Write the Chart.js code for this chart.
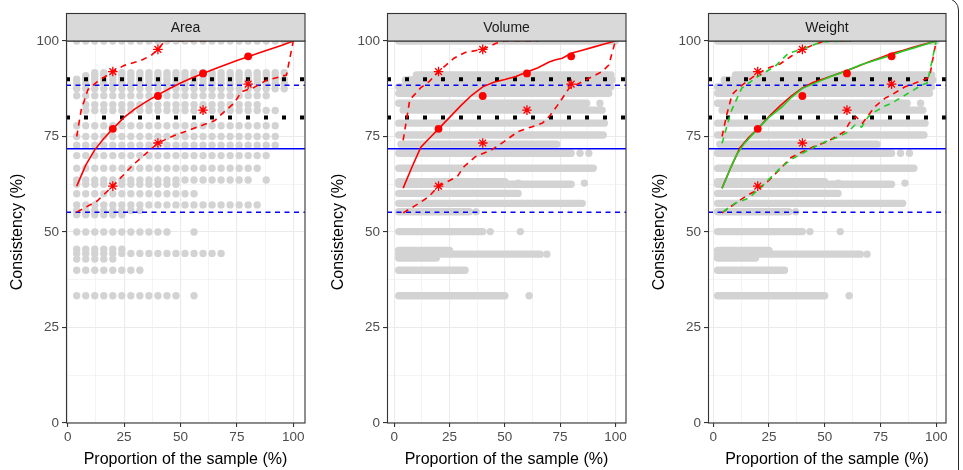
<!DOCTYPE html>
<html>
<head>
<meta charset="utf-8">
<script src="https://cdn.jsdelivr.net/npm/chart.js@4.4.1/dist/chart.umd.min.js"></script>
<style>
  html, body { margin: 0; padding: 0; background: #fff; }
  #wrap { position: relative; width: 963px; height: 470px; overflow: hidden; background: #fff; }
  .panel { position: absolute; top: 0; }
  #frame { position: absolute; left: -30px; top: -2px; width: 989px; height: 500px; border: 1.5px solid #2a2a2a; border-radius: 12px; box-sizing: border-box; pointer-events: none; }
</style>
</head>
<body>
<div id="wrap">
  <canvas class="panel" id="c0" width="321" height="470" style="left:0px"></canvas>
  <canvas class="panel" id="c1" width="321" height="470" style="left:321px"></canvas>
  <canvas class="panel" id="c2" width="321" height="470" style="left:642px"></canvas>
  <div id="frame"></div>
</div>
<script>
// facets and axes
const facets = ['Area', 'Volume', 'Weight'];
const xLimits = [[-0.75, 105.2], [-3.3, 104.8], [-2.3, 104.4]];
const majorTicks = [0, 25, 50, 75, 100];
const minorTicks = [12.5, 37.5, 62.5, 87.5];

// reference lines
const meanLine = 71.8;
const sdLines = [88.4, 55.2];
const cutLines = [90, 80];

// observed points (same in every panel)
const markX = [20, 40, 60, 80];
const markY = [77, 85.6, 91.5, 96];
const starX = [20, 40, 20, 40, 60, 80];
const starY = [92, 97.8, 62, 73.3, 81.9, 88.7];

// Area curves
const areaFitX = [4, 8, 12, 16, 20, 25, 30, 35, 40, 45, 50, 55, 60, 65, 70, 75, 80, 85, 90, 95, 100];
const areaFitY = [62, 67.5, 71.5, 74.5, 77, 80, 82.3, 84.2, 85.9, 87.5, 89, 90.3, 91.5, 92.7, 93.8, 94.9, 95.9, 96.9, 97.9, 98.9, 100];
const areaHighX = [4, 6, 9, 13, 20, 25, 32, 37, 40, 43, 62];
const areaHighY = [75, 82, 87.3, 89.3, 92, 93.6, 94.8, 96.2, 97.8, 100, 100];
const areaLowX = [4, 13, 20, 29, 40, 47, 59, 65, 74, 77, 82.5, 88, 97, 100];
const areaLowY = [55.2, 58.1, 62, 67.6, 73.3, 75.2, 77.8, 79.1, 83.9, 86.7, 87.8, 89.7, 91.1, 100];

// Volume curves
const volFitX = [4, 8, 12, 16, 20, 25, 30, 35, 40, 45, 50, 55, 60, 65, 70, 73, 76, 80, 85, 90, 95, 100];
const volFitY = [61.5, 67, 72.2, 74.6, 77, 80, 83, 85.8, 88, 89.2, 89.9, 90.7, 91.9, 93, 94.5, 95.1, 95.5, 96.8, 97.6, 98.4, 99.2, 100];
const volHighX = [4, 7, 12, 16, 20, 27, 32, 40, 46, 50, 65];
const volHighY = [74, 84.6, 87.8, 89.5, 92, 95.5, 97, 97.8, 99.4, 100, 100];
const volLowX = [4, 10, 15.5, 20, 24, 28.5, 31.5, 36.7, 44, 49.5, 56, 62, 67, 70, 74.5, 79, 85, 94, 97, 100];
const volLowY = [55, 57.1, 59.2, 62, 63.2, 64.5, 67.1, 69.7, 71.5, 73.6, 76.3, 77.5, 78.5, 80.2, 83.7, 87.6, 89.3, 92, 93.7, 100];

// Weight curves (red and green)
const wtRedFitX = [4, 8, 12, 16, 20, 25, 30, 35, 40, 45, 50, 55, 60, 65, 70, 75, 80, 85, 90, 95, 100];
const wtRedFitY = [61.5, 67, 72, 74.8, 77, 80.2, 83, 85.6, 87.7, 89.2, 90.2, 91.2, 92.3, 93.4, 94.6, 95.6, 96.7, 97.5, 98.4, 99.2, 100];
const wtRedHighX = [4, 6, 8.5, 12, 17, 20, 25, 30, 35, 40, 45, 50, 62];
const wtRedHighY = [75, 80.5, 86, 88, 90.2, 91.5, 93, 94, 96, 97.8, 99, 100, 100];
const wtRedLowX = [4, 10, 15, 20, 25, 30, 35, 40, 45, 51, 59, 61, 64, 67, 72.5, 77, 80, 86, 92, 97, 100];
const wtRedLowY = [55, 57.5, 59.5, 61, 63.5, 66.5, 69.5, 71, 72.3, 73.6, 76.3, 78.5, 80.2, 78.5, 82.8, 85, 85.9, 88, 89.3, 90.5, 100];
const wtGreenFitX = [4, 8, 10.5, 14, 20, 25, 31, 35, 40, 47, 53, 59, 66, 73, 80, 85, 90, 95, 100];
const wtGreenFitY = [61.4, 67, 70.2, 73.2, 77, 80, 82.8, 85.2, 87.6, 89.3, 90.8, 92, 93.7, 95, 96.3, 97.3, 98.2, 99.1, 100];
const wtGreenHighX = [4, 8, 12.8, 20, 27.7, 33.7, 41, 48.7, 62];
const wtGreenHighY = [73.2, 81.5, 87.6, 90.7, 93.3, 96.8, 98.1, 99.8, 100];
const wtGreenLowX = [4.5, 9.7, 15.7, 20.2, 26.2, 30.7, 35.9, 40, 45.7, 50.2, 55, 60, 63.6, 66.6, 69.6, 72.6, 77, 80, 86, 93.6, 96, 100];
const wtGreenLowY = [55.3, 57.5, 58.8, 61, 64.5, 67.1, 69.3, 70.6, 72.3, 73.6, 74.6, 76, 78, 77.5, 80.2, 81.5, 83, 83.7, 85.8, 88.5, 89, 100];

// grey sample points, Area: [consistency, first x, last x], one dot every 4 %
const areaRows = [
  [100, 4, 96], [91.7, 12, 96], [90.9, 8, 92], [90, 4, 96], [88.9, 4, 96], [87.5, 4, 96],
  [85.7, 4, 88], [83.3, 8, 84], [81.8, 8, 92], [77.8, 4, 92], [75, 4, 92], [72.7, 4, 92],
  [70, 4, 88], [66.7, 4, 84], [63.6, 4, 80], [63.6, 88, 88], [62.5, 4, 48], [60, 4, 56],
  [57.1, 4, 84], [55.6, 4, 32], [54.5, 4, 24], [50, 4, 44], [50, 56, 56], [45.5, 4, 24],
  [44.4, 4, 68], [42.9, 4, 20], [40, 4, 32], [33.3, 4, 48], [33.3, 56, 56]
];
// grey sample points, Volume and Weight: dense runs [consistency, from x, to x]
const sampleBands = [
  [100, 2, 100], [91.1, 10, 98], [89.8, 5, 98.5], [88, 2, 98], [86.3, 2, 97], [83.7, 2, 87],
  [81.9, 4, 94], [78.5, 2, 95], [75.4, 2, 94.5], [73, 3, 73.5], [70.6, 2, 80], [66.7, 2, 90],
  [63.2, 2, 50], [62.5, 2, 80], [60.1, 2, 56], [57.5, 2, 85], [55.3, 2, 34], [50.1, 2, 40],
  [45.2, 2, 25], [44.2, 2, 66], [43.2, 2, 19], [40, 2, 32], [33.3, 2, 50]
];
const sampleDots = [
  [84, 70.6], [88, 70.6], [56, 62.8], [86, 62.8], [43.4, 50.1], [57, 50.1],
  [69, 44.2], [61, 33.3], [37, 55.3], [93, 83.7]
];

const FONT = '"Liberation Sans", Arial, sans-serif';
const RED = '#ff0000', BLUE = '#0000ff', GREEN = '#22cc22', GREY = '#d3d3d3';

function pts(xs, ys) { return xs.map((x, i) => ({ x, y: ys[i] })); }
function hline(y, xr) { return [{ x: xr[0], y }, { x: xr[1], y }]; }
function stepDots(rows) {
  const out = [];
  rows.forEach(([y, a, b]) => { for (let x = a; x <= b; x += 4) out.push({ x, y }); });
  return out;
}
function bandPoints(rows) {
  const out = [];
  rows.forEach(([y, a, b]) => { out.push({ x: a, y }, { x: b, y }, { x: b, y: null }); });
  return out;
}
function line(data, color, width, dash, order) {
  return { data, showLine: true, borderColor: color, borderWidth: width, borderDash: dash || [],
    pointRadius: 0, tension: 0, clip: 0, order, spanGaps: false };
}

const panelDecor = {
  id: 'panelDecor',
  afterDatasetsDraw(chart, args, opts) {
    const { ctx, chartArea: a } = chart;
    ctx.save();
    ctx.strokeStyle = '#333333';
    ctx.lineWidth = 1.1;
    ctx.strokeRect(a.left + 0.5, a.top, a.right - a.left - 0.5, a.bottom - a.top);
    ctx.fillStyle = '#d9d9d9';
    ctx.fillRect(a.left + 0.5, 13.5, a.right - a.left - 0.5, a.top - 13.5);
    ctx.strokeRect(a.left + 0.5, 13.5, a.right - a.left - 0.5, a.top - 13.5);
    ctx.fillStyle = '#1a1a1a';
    ctx.font = '14px ' + FONT;
    ctx.textAlign = 'center';
    ctx.textBaseline = 'middle';
    ctx.fillText(opts.label, (a.left + a.right) / 2, (13.5 + a.top) / 2 + 1);
    ctx.restore();
  }
};

const gridVals = majorTicks.concat(minorTicks).sort((a, b) => a - b);
const isMajor = c => c.tick && majorTicks.includes(c.tick.value);

function axis(horizontal, xr) {
  const s = {
    type: 'linear',
    min: horizontal ? xr[0] : 0,
    max: horizontal ? xr[1] : 100,
    afterBuildTicks: sc => { sc.ticks = gridVals.map(v => ({ value: v })); },
    ticks: {
      autoSkip: false, maxRotation: 0, padding: horizontal ? 2 : 3,
      color: '#4d4d4d', font: { family: FONT, size: 13.5 },
      callback: v => majorTicks.includes(v) ? String(v) : ''
    },
    grid: {
      color: '#ebebeb',
      lineWidth: c => isMajor(c) ? 1.1 : 0.55,
      tickColor: c => isMajor(c) ? '#333333' : 'rgba(0,0,0,0)',
      tickLength: 4, tickWidth: 1.1
    },
    border: { display: false },
    title: {
      display: true, color: '#000', font: { family: FONT, size: 16 },
      text: horizontal ? 'Proportion of the sample (%)' : 'Consistency (%)',
      padding: horizontal ? { top: 0, bottom: 1 } : { top: 8, bottom: 0 }
    }
  };
  if (horizontal) s.afterFit = sc => { sc.height = 47; };
  else s.afterFit = sc => { sc.width = 66; };
  return s;
}

function makePanel(i) {
  const xr = xLimits[i];
  const ds = [];
  if (i === 0) {
    ds.push({ data: stepDots(areaRows), pointRadius: 3.7, backgroundColor: GREY, borderWidth: 0, clip: 0, order: 9 });
  } else {
    ds.push({ data: bandPoints(sampleBands), showLine: true, borderColor: GREY, borderWidth: 7.4,
      borderCapStyle: 'round', borderJoinStyle: 'round', pointRadius: 0, spanGaps: false, clip: 0, order: 9 });
    ds.push({ data: sampleDots.map(([x, y]) => ({ x, y })), pointRadius: 3.7, backgroundColor: GREY, borderWidth: 0, clip: 0, order: 9 });
  }
  cutLines.forEach(v => ds.push(line(hline(v, xr), '#000000', 4, [4, 14], 7)));
  ds.push(line(hline(meanLine, xr), BLUE, 1.5, [], 7));
  sdLines.forEach(v => ds.push(line(hline(v, xr), BLUE, 1.5, [5, 4.5], 7)));

  if (i === 0) {
    ds.push(line(pts(areaFitX, areaFitY), RED, 1.6, [], 5));
    ds.push(line(pts(areaHighX, areaHighY), RED, 1.6, [6, 5], 5));
    ds.push(line(pts(areaLowX, areaLowY), RED, 1.6, [6, 5], 5));
  } else if (i === 1) {
    ds.push(line(pts(volFitX, volFitY), RED, 1.6, [], 5));
    ds.push(line(pts(volHighX, volHighY), RED, 1.6, [6, 5], 5));
    ds.push(line(pts(volLowX, volLowY), RED, 1.6, [6, 5], 5));
  } else {
    ds.push(line(pts(wtRedFitX, wtRedFitY), RED, 1.6, [], 5));
    ds.push(line(pts(wtRedHighX, wtRedHighY), RED, 1.6, [6, 5], 5));
    ds.push(line(pts(wtRedLowX, wtRedLowY), RED, 1.6, [6, 5], 5));
    ds.push(line(pts(wtGreenFitX, wtGreenFitY), GREEN, 1.6, [], 4));
    ds.push(line(pts(wtGreenHighX, wtGreenHighY), GREEN, 1.6, [6, 5], 4));
    ds.push(line(pts(wtGreenLowX, wtGreenLowY), GREEN, 1.6, [6, 5], 4));
  }
  ds.push({ data: pts(markX, markY), pointRadius: 3.9, pointStyle: 'circle', backgroundColor: RED, borderWidth: 0, clip: 0, order: 1 });
  ds.push({ data: pts(starX, starY), pointRadius: 4.8, pointStyle: 'star', borderColor: RED, backgroundColor: RED, borderWidth: 1.3, clip: 0, order: 1 });

  new Chart(document.getElementById('c' + i), {
    type: 'scatter',
    data: { datasets: ds },
    options: {
      responsive: false,
      animation: false,
      events: [],
      layout: { padding: { left: 0, right: i === 2 ? 17 : 16, top: 41, bottom: 0 } },
      plugins: { legend: { display: false }, tooltip: { enabled: false }, panelDecor: { label: facets[i] } },
      scales: { x: axis(true, xr), y: axis(false, xr) }
    },
    plugins: [panelDecor]
  });
}

document.addEventListener('DOMContentLoaded', function () {
  facets.forEach((f, i) => makePanel(i));
});
</script>
</body>
</html>
